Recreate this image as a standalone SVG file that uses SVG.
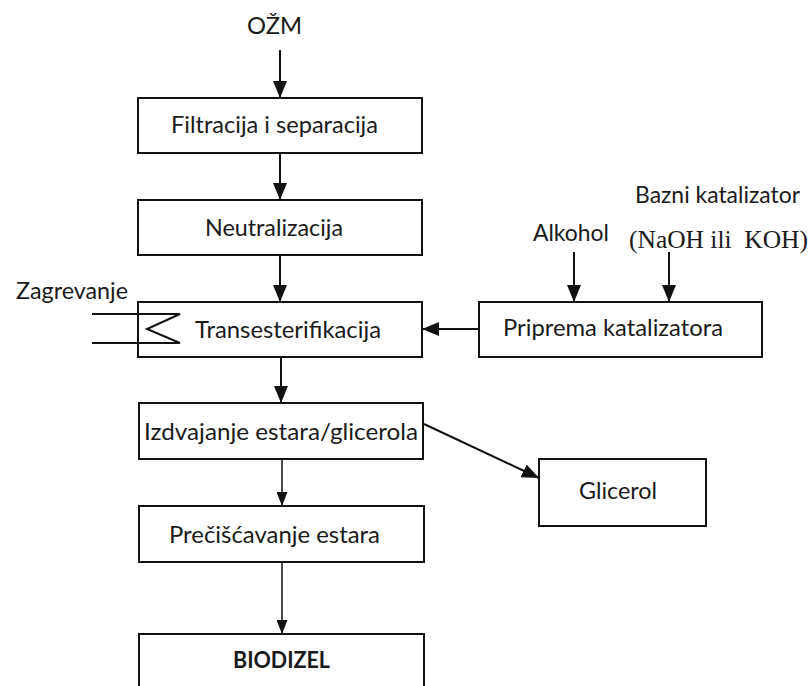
<svg xmlns="http://www.w3.org/2000/svg" width="812" height="686" viewBox="0 0 812 686">
<style>
.box{fill:#fff;stroke:#111;stroke-width:2}
.t{font-family:Lato,"Open Sans","Liberation Sans",sans-serif;font-size:23px;fill:#1a1a1a}
.tm{font-family:"Liberation Serif","Times New Roman",serif;font-size:26px;fill:#1a1a1a}
.b{font-weight:bold;font-size:22px}
.ln{fill:none;stroke:#111;stroke-width:2}
.thin{fill:none;stroke:#111;stroke-width:1.5}
</style>
<defs>
<marker id="ah" markerUnits="userSpaceOnUse" markerWidth="17" markerHeight="14" refX="17" refY="7" orient="auto"><path d="M0,0 L17,7 L0,14 z" fill="#111"/></marker>
<marker id="ahs" markerUnits="userSpaceOnUse" markerWidth="14" markerHeight="11" refX="14" refY="5.5" orient="auto"><path d="M0,0 L14,5.5 L0,11 z" fill="#111"/></marker>
</defs>
<rect width="812" height="686" fill="#fff"/>
<g id="connectors">
<line class="ln" x1="280" y1="50" x2="280" y2="98" marker-end="url(#ah)"/>
<line class="ln" x1="280" y1="153" x2="280" y2="200" marker-end="url(#ah)"/>
<line class="ln" x1="280" y1="255" x2="280" y2="302" marker-end="url(#ah)"/>
<line class="ln" x1="574" y1="252" x2="574" y2="302" marker-end="url(#ah)"/>
<line class="ln" x1="669" y1="252" x2="669" y2="302" marker-end="url(#ah)"/>
<line class="ln" x1="479" y1="329" x2="422" y2="329" marker-end="url(#ah)"/>
<line class="ln" x1="281" y1="357" x2="281" y2="403" marker-end="url(#ah)"/>
<line class="ln" x1="424" y1="424" x2="539" y2="478" marker-end="url(#ah)"/>
<line class="thin" x1="282" y1="459" x2="282" y2="506" marker-end="url(#ahs)"/>
<line class="thin" x1="282" y1="562" x2="282" y2="634" marker-end="url(#ahs)"/>
</g>
<g id="ozm"><text class="t" x="247" y="34" textLength="55" lengthAdjust="spacingAndGlyphs">OŽM</text></g>
<g id="filtracija"><rect class="box" x="138" y="98" width="284" height="55"/><text class="t" x="171" y="133" textLength="207" lengthAdjust="spacingAndGlyphs">Filtracija i separacija</text></g>
<g id="neutralizacija"><rect class="box" x="138" y="200" width="284" height="55"/><text class="t" x="205" y="236" textLength="138" lengthAdjust="spacingAndGlyphs">Neutralizacija</text></g>
<g id="zagrevanje"><text class="t" x="16" y="299" textLength="112" lengthAdjust="spacingAndGlyphs">Zagrevanje</text>
<path class="ln" d="M92,314 L180,314 L147,329 L180,343 L92,343"/></g>
<g id="transesterifikacija"><rect class="box" x="138" y="302" width="284" height="55" style="fill:none"/><text class="t" x="195" y="338" textLength="186" lengthAdjust="spacingAndGlyphs">Transesterifikacija</text></g>
<g id="bazni"><text class="t" x="635" y="203" textLength="165" lengthAdjust="spacingAndGlyphs">Bazni katalizator</text>
<text class="tm" x="629" y="248" textLength="179" lengthAdjust="spacingAndGlyphs" xml:space="preserve">(NaOH ili  KOH)</text></g>
<g id="alkohol"><text class="t" x="533" y="241" textLength="76" lengthAdjust="spacingAndGlyphs">Alkohol</text></g>
<g id="priprema"><rect class="box" x="479" y="302" width="283" height="55"/><text class="t" x="503" y="336" textLength="220" lengthAdjust="spacingAndGlyphs">Priprema katalizatora</text></g>
<g id="izdvajanje"><rect class="box" x="139" y="403" width="284" height="56"/><text class="t" x="144" y="440" textLength="274" lengthAdjust="spacingAndGlyphs">Izdvajanje estara/glicerola</text></g>
<g id="glicerol"><rect class="box" x="539" y="459" width="167" height="67"/><text class="t" x="579" y="499" textLength="78" lengthAdjust="spacingAndGlyphs">Glicerol</text></g>
<g id="preciscavanje"><rect class="box" x="139" y="506" width="285" height="56"/><text class="t" x="169" y="543" textLength="211" lengthAdjust="spacingAndGlyphs">Prečišćavanje estara</text></g>
<g id="biodizel"><rect class="box" x="139" y="634" width="285" height="70"/><text class="t b" x="233" y="668" textLength="97" lengthAdjust="spacingAndGlyphs">BIODIZEL</text></g>
</svg>
